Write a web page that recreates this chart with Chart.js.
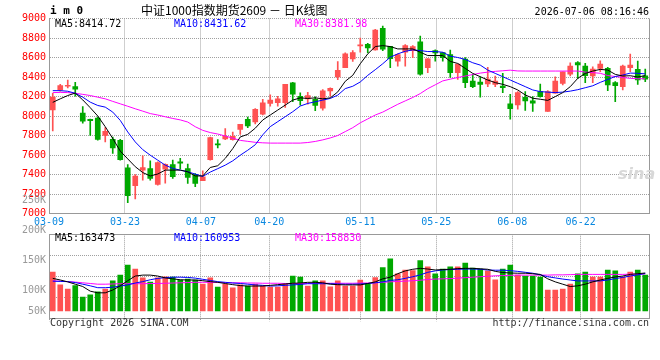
<!DOCTYPE html>
<html>
<head>
<meta charset="utf-8">
<script src="https://cdn.jsdelivr.net/npm/chart.js@4.4.1/dist/chart.umd.min.js"></script>
<style>
  body { margin: 0; background: #fff; }
  #wrap { position: relative; width: 660px; height: 360px; font-family: 'DejaVu Sans Mono', monospace; font-size: 10px; }
  #wrap canvas { position: absolute; left: 0; }
  .txt { position: absolute; white-space: pre; line-height: 12px; z-index: 5; }
</style>
</head>
<body>
<div id="wrap">
  <canvas id="klineChart" width="660" height="232" style="top:0"></canvas>
  <canvas id="volChart" width="660" height="145" style="top:190px"></canvas>

  <div class="txt" style="left:50px;top:5px;font-weight:bold;font-size:11px;">i m 0</div>
  <div class="txt" style="left:141px;top:3px;font-family:'Noto Sans CJK SC';font-size:12px;line-height:14px;">中证1000指数期货2609 － 日K线图</div>
  <div class="txt" style="right:11px;top:6px;">2026-07-06 08:16:46</div>

  <div class="txt" id="ma5Text" style="left:55px;top:18px;color:#000;"></div>
  <div class="txt" id="ma10Text" style="left:174px;top:18px;color:#0000ff;"></div>
  <div class="txt" id="ma30Text" style="left:295px;top:18px;color:#ff00ff;"></div>

  <div class="txt" id="vma5Text" style="left:55px;top:232px;color:#000;"></div>
  <div class="txt" id="vma10Text" style="left:174px;top:232px;color:#0000ff;"></div>
  <div class="txt" id="vma30Text" style="left:295px;top:232px;color:#ff00ff;"></div>

  <div class="txt" style="left:618px;top:168px;font-family:'DejaVu Sans';font-style:italic;font-weight:bold;font-size:16px;color:#d8d8d8;">sina</div>

  <div class="txt" style="left:50px;top:317px;color:#333;">Copyright 2026 SINA.COM</div>
  <div class="txt" style="right:11px;top:317px;color:#333;">http://finance.sina.com.cn</div>
</div>

<script>
// daily bars, 80 trading days from 03-09 to 07-03
const opens  = [8062,8267,8305,8301,8029,7966,7978,7802,7761,7751, 7468,7285,7445,7462,7298,7455,7502,7530,7462,7400,
                7336,7553,7710,7764,7757,7863,7965,7939,8020,8129, 8136,8136,8339,8203,8176,8170,8081,8258,8400,8495,
                8585,8720,8735,8678,8900,8715,8562,8654,8671,8762, 8495,8671,8651,8630,8444,8583,8359,8348,8328,8325,
                8308,8124,8114,8192,8155,8250,8046,8233,8335,8430, 8549,8512,8410,8488,8488,8342,8301,8495,8478,8413];
const highs  = [8233,8325,8369,8346,8097,7968,7989,7880,7785,7761, 7502,7400,7591,7540,7530,7510,7547,7567,7506,7410,
                7438,7785,7757,7870,7836,7914,7989,8075,8170,8217, 8203,8325,8346,8237,8244,8197,8271,8288,8559,8647,
                8672,8800,8745,8890,8922,8715,8637,8732,8722,8819, 8590,8678,8651,8675,8532,8600,8427,8403,8498,8410,
                8437,8223,8250,8250,8199,8328,8260,8403,8454,8546, 8559,8539,8505,8566,8498,8352,8522,8634,8563,8481];
const lows   = [7846,8254,8288,8203,7927,7802,7751,7734,7615,7547, 7111,7149,7343,7343,7290,7310,7360,7458,7309,7275,
                7336,7547,7672,7757,7751,7812,7880,7920,8010,8102, 8102,8088,8146,8112,8122,8054,8061,8203,8373,8495,
                8560,8655,8647,8675,8671,8495,8512,8512,8597,8420, 8444,8563,8563,8396,8376,8291,8291,8192,8301,8301,
                8240,7968,8070,8056,8046,8192,8046,8233,8318,8410, 8386,8342,8342,8454,8260,8148,8267,8454,8325,8352];
const closes = [8193,8312,8312,8274,7948,7952,7761,7842,7672,7553, 7183,7383,7472,7360,7523,7505,7377,7515,7370,7309,
                7377,7778,7704,7791,7791,7914,7897,8068,8136,8163, 8176,8325,8224,8156,8210,8108,8258,8285,8468,8637,
                8650,8730,8698,8880,8686,8588,8630,8722,8712,8430, 8586,8647,8597,8444,8532,8342,8301,8325,8379,8359,
                8291,8076,8240,8155,8131,8199,8250,8359,8454,8512, 8525,8413,8481,8532,8318,8311,8512,8522,8369,8379];

// price moving averages
const ma5  = [8140,8176,8210,8235,8165,8085,8000,7890,7770,7640, 7560,7480,7420,7385,7405,7445,7445,7445,7428,7385,
              7385,7472,7490,7565,7666,7785,7812,7875,7959,8010, 8061,8112,8163,8186,8180,8186,8176,8186,8247,8356,
              8417,8536,8637,8712,8722,8712,8688,8688,8688,8654, 8620,8620,8620,8560,8539,8488,8437,8403,8369,8342,
              8325,8301,8267,8216,8182,8172,8160,8199,8240,8301, 8386,8437,8461,8478,8471,8427,8410,8413,8400,8414];
const ma10 = [8260,8260,8254,8233,8193,8142,8108,8091,8040,7955, 7836,7734,7655,7598,7547,7496,7462,7445,7428,7404,
              7380,7425,7460,7496,7540,7598,7649,7705,7807,7891, 7942,7993,8044,8102,8129,8146,8163,8180,8214,8281,
              8305,8349,8417,8475,8536,8603,8637,8664,8678,8671, 8661,8661,8654,8614,8600,8580,8546,8522,8471,8437,
              8403,8369,8335,8301,8267,8250,8245,8240,8245,8255, 8270,8290,8310,8345,8375,8405,8420,8440,8438,8432];
const ma30 = [8240,8242,8240,8233,8222,8210,8193,8176,8150,8125, 8100,8074,8050,8025,8010,7992,7975,7960,7938,7890,
              7853,7830,7815,7795,7772,7750,7740,7730,7725,7722, 7722,7722,7722,7722,7728,7739,7755,7775,7800,7840,
              7880,7930,7970,8010,8040,8080,8120,8155,8190,8230, 8280,8320,8360,8378,8395,8410,8425,8440,8450,8458,
              8464,8470,8462,8461,8461,8461,8461,8461,8461,8461, 8461,8450,8445,8438,8415,8405,8395,8386,8382,8382];

// volume, thousand lots
const volume = [167,112,94,109,60,69,82,94,129,154, 197,180,142,124,142,147,146,133,137,133,
                116,142,103,116,99,112,107,116,107,103, 103,116,150,146,107,129,129,104,129,107,
                107,133,116,143,186,224,159,176,173,216, 189,159,180,189,189,206,184,180,172,134,
                180,197,154,150,150,146,90,90,94,116, 159,167,146,146,176,172,146,167,176,154];
const vma5  = [140,133,125,115,105,85,78,78,90,108, 130,150,154,154,150,142,138,134,133,133,
               130,126,123,118,113,109,107,107,107,110, 113,116,119,120,123,123,121,115,113,112,
               112,112,118,125,138,145,160,172,179,183, 180,176,178,179,182,183,183,181,179,170,
               165,163,162,162,160,157,138,125,115,105, 108,115,125,133,140,146,150,157,160,163];
const vma10 = [128,127,126,122,115,108,100,100,102,107, 112,120,126,134,140,143,145,145,144,141,
               136,131,126,123,120,118,115,112,110,107, 108,110,112,114,117,117,117,117,116,115,
               115,116,118,121,125,131,134,140,147,155, 166,172,176,178,179,180,180,179,176,175,
               175,173,170,166,162,155,147,142,137,133, 129,129,129,129,133,139,144,150,155,161];
const vma30 = [129,128,126,124,121,118,115,115,116,117, 117,117,117,118,118,119,120,121,122,123,
               123,123,122,122,121,121,120,120,119,119, 119,118,118,118,118,119,119,119,119,119,
               119,120,120,121,123,125,127,128,130,132, 135,137,138,139,141,143,145,147,149,151,
               152,153,154,154,154,154,154,155,155,156, 157,157,157,157,157,157,157,158,158,159];

// date ticks: label and the trading-day index it belongs to
const tickLabels = ['03-09', '03-23', '04-07', '04-20', '05-11', '05-25', '06-08', '06-22'];
const tickIndex  = [0, 10, 20, 29, 41, 51, 61, 70];

const volTickLabels = ['250K', '200K', '150K', '100K', '50K'];
const volTickValues = [250, 200, 150, 100, 50];

const legendMain = { ma5: 'MA5:8414.72', ma10: 'MA10:8431.62', ma30: 'MA30:8381.98' };
const legendVol  = { ma5: 'MA5:163473', ma10: 'MA10:160953', ma30: 'MA30:158830' };

document.getElementById('ma5Text').textContent = legendMain.ma5;
document.getElementById('ma10Text').textContent = legendMain.ma10;
document.getElementById('ma30Text').textContent = legendMain.ma30;
document.getElementById('vma5Text').textContent = legendVol.ma5;
document.getElementById('vma10Text').textContent = legendVol.ma10;
document.getElementById('vma30Text').textContent = legendVol.ma30;

const RED = '#ff5252';
const GREEN = '#00a800';
const GRID = '#a0a0a0';
const EDGE = '#999999';
const monoFont = { family: "'DejaVu Sans Mono', monospace", size: 10 };

const candleColors = closes.map((c, i) => c >= opens[i] ? RED : GREEN);
const toPoints = arr => arr.map((v, i) => ({ x: i, y: v }));

function maLine(label, arr, color) {
  return {
    type: 'line', label: label, data: toPoints(arr),
    borderColor: color, borderWidth: 1, pointRadius: 0, tension: 0,
    xAxisID: 'x', order: 0
  };
}

// right edge (and optional top edge) of the plot box
const framePlugin = {
  id: 'frame',
  afterDraw(chart, args, opts) {
    const { ctx, chartArea: a } = chart;
    ctx.save();
    ctx.strokeStyle = EDGE;
    ctx.lineWidth = 1;
    ctx.beginPath();
    const r = Math.round(a.right) + 0.5;
    ctx.moveTo(r, a.top);
    ctx.lineTo(r, a.bottom);
    if (opts.top) {
      const t = Math.round(a.top) + 0.5;
      ctx.moveTo(a.left, t);
      ctx.lineTo(a.right + 1, t);
    }
    ctx.stroke();
    ctx.restore();
  }
};

// sina's volume labels sit on their own 50K-per-30px ladder
const volLabelPlugin = {
  id: 'volLabels',
  afterDraw(chart) {
    const { ctx, chartArea, scales } = chart;
    const base = scales.y.getPixelForValue(0);
    ctx.save();
    ctx.font = "10px 'DejaVu Sans Mono'";
    ctx.fillStyle = '#999999';
    ctx.textAlign = 'right';
    ctx.textBaseline = 'middle';
    volTickLabels.forEach((txt, i) => {
      const y = Math.min(base, chartArea.bottom + 2.4 - (volTickValues[i] / 50 - 1) * 30);
      ctx.fillText(txt, 46, y);
    });
    ctx.restore();
  }
};

function candleAxis() {
  return { type: 'linear', min: -0.5, max: closes.length - 0.5, display: false, offset: false, grid: { offset: false } };
}

function dateAxis(showLabels) {
  return {
    type: 'linear', position: 'bottom', min: 0, max: closes.length - 1, offset: false,
    afterBuildTicks: s => { s.ticks = tickIndex.map(v => ({ value: v })); },
    afterFit: s => { s.height = showLabels ? 18.5 : 0; },
    ticks: {
      display: showLabels, autoSkip: false, maxRotation: 0, padding: 3,
      color: '#0a88e0', font: monoFont,
      callback: (v, i) => tickLabels[i]
    },
    grid: { offset: false, color: GRID, drawTicks: !showLabels, tickLength: 3, tickColor: GRID, tickBorderDash: [1, 1] },
    border: { display: true, color: EDGE, dash: [1, 1] }
  };
}

new Chart(document.getElementById('klineChart'), {
  type: 'bar',
  data: {
    datasets: [
      maLine('MA5', ma5, '#000000'),
      maLine('MA10', ma10, '#0000ff'),
      maLine('MA30', ma30, '#ff00ff'),
      {
        label: 'body',
        data: opens.map((o, i) => ({ x: i, y: [Math.min(o, closes[i]), Math.max(o, closes[i])] })),
        backgroundColor: candleColors, barThickness: 5, minBarLength: 1,
        grouped: false, xAxisID: 'x', order: 1
      },
      {
        label: 'wick',
        data: lows.map((l, i) => ({ x: i, y: [l, highs[i]] })),
        backgroundColor: candleColors, barThickness: 1,
        grouped: false, xAxisID: 'x', order: 2
      }
    ]
  },
  options: {
    responsive: false, animation: false, devicePixelRatio: 1, events: [],
    layout: { padding: { top: 18.5, right: 11, left: 0, bottom: 0 } },
    plugins: { legend: { display: false }, tooltip: { enabled: false }, frame: { top: false } },
    scales: {
      x: candleAxis(),
      xt: dateAxis(true),
      y: {
        min: 7000, max: 9000,
        afterFit: s => { s.width = 49; },
        ticks: { stepSize: 200, color: '#ff0000', font: monoFont, padding: 3, callback: v => String(v) },
        grid: { color: GRID, drawTicks: false },
        border: { display: true, color: EDGE, dash: [1, 1] }
      }
    }
  },
  plugins: [framePlugin]
});

new Chart(document.getElementById('volChart'), {
  type: 'bar',
  data: {
    datasets: [
      maLine('MA5', vma5, '#000000'),
      maLine('MA10', vma10, '#0000ff'),
      maLine('MA30', vma30, '#ff00ff'),
      {
        label: 'volume',
        data: toPoints(volume),
        backgroundColor: candleColors, barThickness: 5,
        grouped: false, xAxisID: 'x', order: 1
      }
    ]
  },
  options: {
    responsive: false, animation: false, devicePixelRatio: 1, events: [],
    layout: { padding: { top: 44.3, right: 11, left: 0, bottom: 16.7 } },
    plugins: { legend: { display: false }, tooltip: { enabled: false }, frame: { top: true } },
    scales: {
      x: candleAxis(),
      xt: dateAxis(false),
      y: {
        min: -31.3, max: 329,
        afterFit: s => { s.width = 49; },
        ticks: { count: 5, display: false },
        grid: { color: GRID, drawTicks: false },
        border: { display: true, color: EDGE, dash: [1, 1] }
      }
    }
  },
  plugins: [framePlugin, volLabelPlugin]
});
</script>
</body>
</html>
